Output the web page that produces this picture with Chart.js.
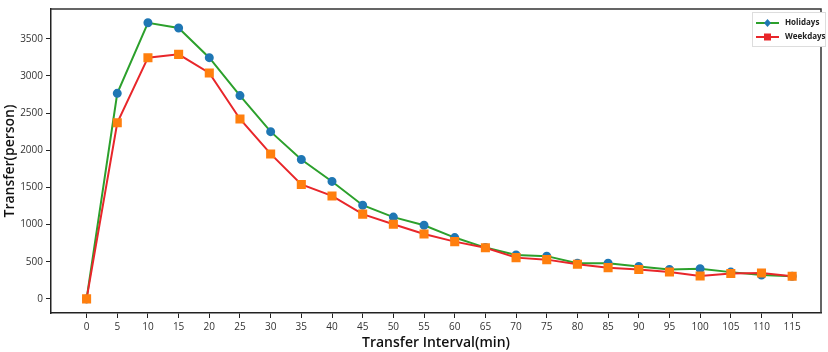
<!DOCTYPE html>
<html>
<head>
<meta charset="utf-8">
<script src="https://cdn.jsdelivr.net/npm/chart.js@4/dist/chart.umd.min.js"></script>
<style>
  html, body { margin: 0; padding: 0; background: #fff; }
  #wrap { width: 828px; height: 352px; position: relative; }
</style>
</head>
<body>
<div id="wrap"><canvas id="chart"></canvas></div>
<script>
const intervals = [0, 5, 10, 15, 20, 25, 30, 35, 40, 45, 50, 55, 60, 65, 70, 75, 80, 85, 90, 95, 100, 105, 110, 115];
const holidays = [0, 2765, 3715, 3645, 3245, 2735, 2250, 1875, 1580, 1260, 1100, 990, 825, 690, 590, 575, 480, 480, 435, 395, 405, 360, 320, 305];
const weekdays = [0, 2370, 3245, 3290, 3040, 2420, 1950, 1540, 1385, 1140, 1005, 872, 770, 688, 555, 528, 465, 420, 395, 362, 308, 342, 348, 305];
const yTicks = [0, 500, 1000, 1500, 2000, 2500, 3000, 3500];

const seriesNames = ['Holidays', 'Weekdays'];
const lineColors = ['#2ca02c', '#e8262a'];
const markerColors = ['#1f77b4', '#ff7f0e'];

const tickFont = { family: 'Open Sans', size: 10 };

// frame on top/right and the inset legend
const framePlugin = {
    id: 'frame',
    afterDraw(chart) {
        const ctx = chart.ctx;
        const a = chart.chartArea;
        ctx.save();
        ctx.strokeStyle = '#333';
        ctx.lineWidth = 1.5;
        ctx.beginPath();
        ctx.moveTo(a.left, a.top);
        ctx.lineTo(a.right, a.top);
        ctx.lineTo(a.right, a.bottom);
        ctx.stroke();

        // legend box
        const bx = 752, by = 12, bw = 73, bh = 34;
        ctx.fillStyle = '#fff';
        ctx.fillRect(bx, by, bw, bh);
        ctx.strokeStyle = '#ddd';
        ctx.lineWidth = 1;
        ctx.strokeRect(bx + 0.5, by + 0.5, bw, bh);
        const rows = [by + 11, by + 25];
        ctx.font = 'bold 8px "Open Sans"';
        ctx.textBaseline = 'middle';
        rows.forEach((ry, i) => {
            ctx.strokeStyle = lineColors[i];
            ctx.lineWidth = 2;
            ctx.beginPath();
            ctx.moveTo(756, ry);
            ctx.lineTo(779, ry);
            ctx.stroke();
            if (i === 0) {
                ctx.fillStyle = markerColors[0];
                ctx.beginPath();
                ctx.moveTo(767.5, ry - 4);
                ctx.lineTo(771, ry);
                ctx.lineTo(767.5, ry + 4);
                ctx.lineTo(764, ry);
                ctx.closePath();
                ctx.fill();
            } else {
                ctx.fillStyle = lineColors[1];
                ctx.fillRect(764, ry - 3.5, 7, 7);
            }
            ctx.fillStyle = '#222';
            ctx.fillText(seriesNames[i], 785, ry);
        });
        ctx.restore();
    }
};

const toPoints = vals => vals.map((v, i) => ({ x: intervals[i], y: v }));

new Chart(document.getElementById('chart'), {
    type: 'line',
    data: {
        datasets: [
            {
                label: seriesNames[0],
                data: toPoints(holidays),
                borderColor: lineColors[0],
                borderWidth: 2,
                pointStyle: 'circle',
                pointRadius: 3.5,
                pointBackgroundColor: markerColors[0],
                pointBorderColor: markerColors[0],
                tension: 0,
                order: 1
            },
            {
                label: seriesNames[1],
                data: toPoints(weekdays),
                borderColor: lineColors[1],
                borderWidth: 2,
                pointStyle: 'rect',
                pointRadius: 5,
                pointBackgroundColor: markerColors[1],
                pointBorderColor: markerColors[1],
                tension: 0,
                order: 0
            }
        ]
    },
    options: {
        responsive: true,
        maintainAspectRatio: false,
        animation: false,
        events: [],
        layout: { padding: { left: 0, right: 2, top: 6, bottom: 0 } },
        plugins: {
            legend: { display: false },
            tooltip: { enabled: false }
        },
        scales: {
            x: {
                type: 'linear',
                min: -5.8,
                max: 119.7,
                afterBuildTicks(scale) {
                    scale.ticks = intervals.map(v => ({ value: v }));
                },
                afterFit(scale) { scale.height = 39; },
                grid: { drawOnChartArea: false, drawTicks: true, tickLength: 5, color: '#222' },
                border: { display: true, color: '#222', width: 1.5 },
                ticks: { font: tickFont, color: '#333', padding: 3, maxRotation: 0, autoSkip: false,
                         callback: v => String(v) },
                title: {
                    display: true,
                    text: 'Transfer Interval(min)',
                    font: { family: 'Open Sans', size: 14, weight: '600' },
                    color: '#111',
                    padding: { top: 0, bottom: 1 }
                }
            },
            y: {
                min: -190,
                max: 3900,
                afterBuildTicks(scale) {
                    scale.ticks = yTicks.map(v => ({ value: v }));
                },
                afterFit(scale) { scale.width = 51; },
                grid: { drawOnChartArea: false, drawTicks: true, tickLength: 5, color: '#222' },
                border: { display: true, color: '#222', width: 1.5 },
                ticks: { font: tickFont, color: '#333', padding: 3, callback: v => String(v) },
                title: {
                    display: true,
                    text: 'Transfer(person)',
                    font: { family: 'Open Sans', size: 14, weight: '600' },
                    color: '#111',
                    padding: { top: 2, bottom: 0 }
                }
            }
        }
    },
    plugins: [framePlugin]
});
</script>
</body>
</html>
